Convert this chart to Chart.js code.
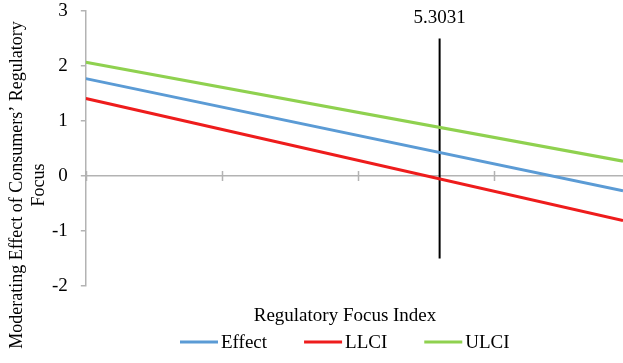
<!DOCTYPE html>
<html>
<head>
<meta charset="utf-8">
<script src="https://cdn.jsdelivr.net/npm/chart.js@4"></script>
<style>
  html, body { margin: 0; padding: 0; background: #fff; }
  #wrap { width: 623px; height: 363px; }
</style>
</head>
<body>
<div id="wrap"><canvas id="chart"></canvas></div>
<script>
// regulatory focus index range shown (ends of the lines)
const xEnds = [0.1, 8.0];
const effect = [1.77, -0.27];
const llci = [1.41, -0.81];
const ulci = [2.07, 0.27];

// Johnson-Neyman point
const jnValue = 5.3031;
const jnSpan = [-1.5, 2.5];

const xTickValues = [0.1, 2.1, 4.1, 6.1];
const yTickValues = [-2, -1, 0, 1, 2, 3];
const xTitle = 'Regulatory Focus Index';
const yTitle = ['Moderating Effect of Consumers’ Regulatory', 'Focus'];

const serif = "'Liberation Serif', 'Times New Roman', serif";
const font = '19px ' + serif;
const gray = '#b3b3b3';

function toPoints(ys) {
  return xEnds.map((x, i) => ({ x: x, y: ys[i] }));
}

// titles, J-N label, tick marks on the zero line and the legend
const extras = {
  id: 'extras',
  afterDraw(chart) {
    const ctx = chart.ctx;
    const x = chart.scales.x;
    const y = chart.scales.y;
    const y0 = y.getPixelForValue(0);

    ctx.save();
    ctx.strokeStyle = gray;
    ctx.lineWidth = 1.5;
    xTickValues.forEach(v => {
      const px = Math.round(x.getPixelForValue(v)) + 0.5;
      ctx.beginPath();
      ctx.moveTo(px, y0 - 5);
      ctx.lineTo(px, y0 + 5);
      ctx.stroke();
    });

    ctx.fillStyle = '#000';
    ctx.font = font;
    ctx.textAlign = 'center';
    ctx.textBaseline = 'alphabetic';
    ctx.fillText(String(jnValue), x.getPixelForValue(jnValue), y.getPixelForValue(jnSpan[1]) - 16);

    ctx.textBaseline = 'middle';
    ctx.fillText(xTitle, 345, 316);

    // rotated y title
    ctx.save();
    ctx.font = '18px ' + serif;
    ctx.translate(0, 185);
    ctx.rotate(-Math.PI / 2);
    ctx.fillText(yTitle[0], 0, 17);
    ctx.fillText(yTitle[1], 0, 39);
    ctx.restore();

    // legend
    const items = chart.data.datasets.filter(d => d.label !== 'jn');
    const lineW = 38, gap = 3, itemGap = 37;
    let cx = 180;
    const ly = 342;
    ctx.textAlign = 'left';
    items.forEach(d => {
      ctx.fillStyle = d.borderColor;
      ctx.fillRect(cx, ly - 1.5, lineW, 3);
      cx += lineW + gap;
      ctx.fillStyle = '#000';
      ctx.fillText(d.label, cx, ly + 1);
      cx += ctx.measureText(d.label).width + itemGap;
    });
    ctx.restore();
  }
};

new Chart(document.getElementById('chart'), {
  type: 'line',
  data: {
    datasets: [
      {
        label: 'Effect',
        data: toPoints(effect),
        borderColor: '#5b9bd5',
        borderWidth: 3
      },
      {
        label: 'LLCI',
        data: toPoints(llci),
        borderColor: '#ee1c1c',
        borderWidth: 3
      },
      {
        label: 'ULCI',
        data: toPoints(ulci),
        borderColor: '#8fd14f',
        borderWidth: 3
      },
      {
        label: 'jn',
        data: jnSpan.map(v => ({ x: jnValue, y: v })),
        borderColor: '#000',
        borderWidth: 2
      }
    ]
  },
  options: {
    responsive: true,
    maintainAspectRatio: false,
    animation: false,
    elements: { point: { radius: 0 }, line: { tension: 0 } },
    layout: { padding: { left: 39, right: 0, top: 11, bottom: 69 } },
    plugins: {
      tooltip: { enabled: false },
      legend: { display: false }
    },
    scales: {
      x: {
        type: 'linear',
        min: xEnds[0],
        max: xEnds[1],
        grid: { display: false },
        border: { display: false },
        ticks: { display: false }
      },
      y: {
        min: -2,
        max: 3,
        afterBuildTicks(scale) {
          scale.ticks = yTickValues.map(v => ({ value: v }));
        },
        afterFit(scale) {
          // let the top label hang over the padding
          scale.paddingTop = 0;
          scale.paddingBottom = 0;
        },
        border: { display: true, color: gray, width: 1.5 },
        grid: {
          drawOnChartArea: true,
          color: c => (c.tick && c.tick.value === 0 ? gray : 'rgba(0,0,0,0)'),
          lineWidth: 1.5,
          tickColor: gray,
          tickLength: 5
        },
        ticks: {
          color: '#000',
          font: { family: serif, size: 19 },
          padding: 13
        }
      }
    }
  },
  plugins: [extras]
});
</script>
</body>
</html>
